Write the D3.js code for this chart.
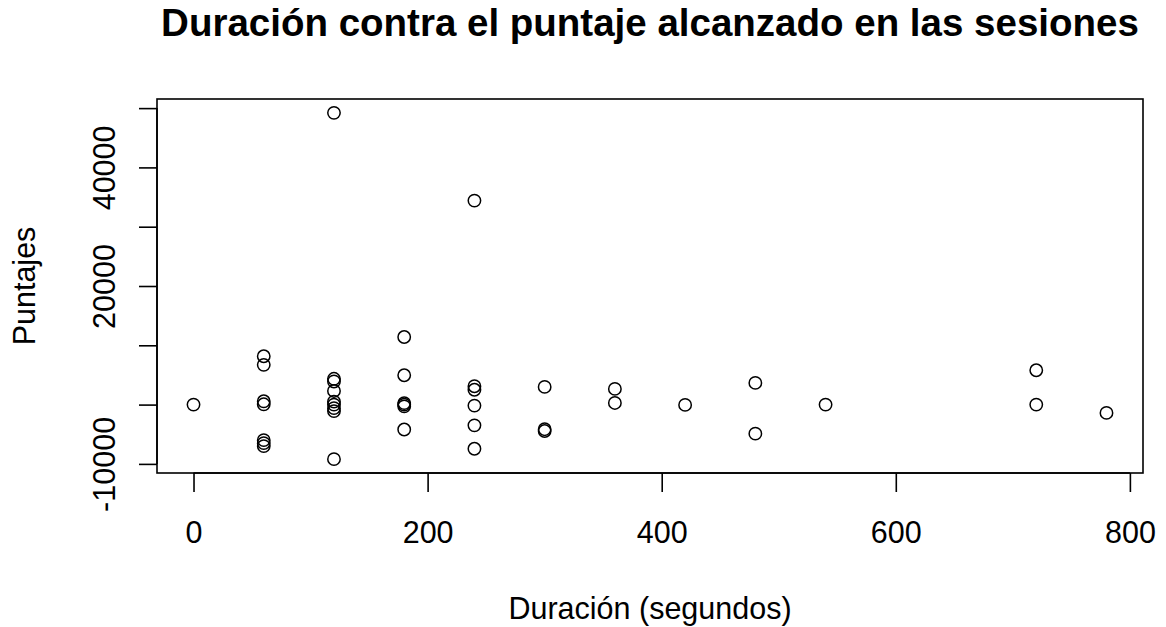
<!DOCTYPE html>
<html>
<head>
<meta charset="utf-8">
<script src="https://cdn.jsdelivr.net/npm/d3@7"></script>
<style>
  html, body { margin: 0; padding: 0; background: #fff; }
  svg { display: block; }
  text { font-family: "Liberation Sans", Arial, sans-serif; fill: #000; }
</style>
</head>
<body>
<div id="chart"></div>
<script>
// Data
const groupDurations = [0, 60, 120, 180, 240, 300, 360, 420, 480, 540, 720, 780];
const groupCounts    = [1, 7, 9, 6, 6, 3, 2, 1, 2, 1, 2, 1];
const puntajes = [
  0,
  8150, 6700, 560, 50, -6000, -6500, -7000,
  49200, 4350, 3900, 2300, 500, 0, -600, -1100, -9200,
  11400, 4950, 250, 0, -300, -4200,
  34400, 3100, 2500, -170, -3500, -7450,
  2980, -4150, -4450,
  2650, 280,
  -50,
  3660, -4900,
  0,
  5790, 0,
  -1400
];
const xTicks = [0, 200, 400, 600, 800];
const yTicks = [-10000, 0, 10000, 20000, 30000, 40000, 50000];
const yLabeled = [-10000, 20000, 40000];
const title = "Duración contra el puntaje alcanzado en las sesiones";
const xLabel = "Duración (segundos)";
const yLabel = "Puntajes";

const W = 1166, H = 627;
const box = { left: 157, right: 1143, top: 99, bottom: 473 };

const duracion = [];
groupDurations.forEach((v, g) => { for (let i = 0; i < groupCounts[g]; i++) duracion.push(v); });
const points = puntajes.map((p, i) => ({ x: duracion[i], y: p }));

function padded(ext) {
  const r = ext[1] - ext[0];
  return [ext[0] - 0.04 * r, ext[1] + 0.04 * r];
}
const x = d3.scaleLinear().domain(padded(d3.extent(duracion))).range([box.left, box.right]);
const y = d3.scaleLinear().domain(padded(d3.extent(puntajes))).range([box.bottom, box.top]);

const svg = d3.select("#chart").append("svg").attr("width", W).attr("height", H);

// Title
svg.append("text")
  .attr("x", (box.left + box.right) / 2)
  .attr("y", 36)
  .attr("text-anchor", "middle")
  .style("font-size", "38.5px")
  .style("font-weight", "bold")
  .text(title);

// Box
svg.append("rect")
  .attr("x", box.left).attr("y", box.top)
  .attr("width", box.right - box.left).attr("height", box.bottom - box.top)
  .attr("fill", "none").attr("stroke", "#000").attr("stroke-width", 1.6);

// X axis
const xAxis = d3.axisBottom(x).tickValues(xTicks).tickSize(19).tickFormat(d3.format("d"));
const gx = svg.append("g").attr("transform", `translate(0,${box.bottom})`).call(xAxis);
gx.select(".domain").attr("d", `M${x(xTicks[0])},0H${x(xTicks[xTicks.length-1])}`).attr("stroke-width", 1.6);
gx.selectAll(".tick line").attr("stroke-width", 1.6);
gx.selectAll(".tick text")
  .style("font-size", "30.5px").style("font-family", "Liberation Sans, Arial, sans-serif")
  .attr("dy", null).attr("y", 70);

// Y axis
const yAxis = d3.axisLeft(y).tickValues(yTicks).tickSize(18)
  .tickFormat(d => yLabeled.includes(d) ? String(d) : "");
const gy = svg.append("g").attr("transform", `translate(${box.left},0)`).call(yAxis);
gy.select(".domain").attr("d", `M0,${y(yTicks[0])}V${y(yTicks[yTicks.length-1])}`).attr("stroke-width", 1.6);
gy.selectAll(".tick line").attr("stroke-width", 1.6);
gy.selectAll(".tick text")
  .style("font-size", "30.5px").style("font-family", "Liberation Sans, Arial, sans-serif")
  .attr("x", null).attr("dy", null)
  .attr("text-anchor", "middle")
  .attr("transform", "translate(-42,0) rotate(-90)");

// Axis labels
svg.append("text")
  .attr("x", (box.left + box.right) / 2)
  .attr("y", 619)
  .attr("text-anchor", "middle")
  .style("font-size", "30.5px")
  .text(xLabel);
svg.append("text")
  .attr("transform", `translate(35,${(box.top + box.bottom) / 2}) rotate(-90)`)
  .attr("text-anchor", "middle")
  .style("font-size", "30.5px")
  .text(yLabel);

// Points
svg.append("g").selectAll("circle").data(points).enter().append("circle")
  .attr("cx", d => x(d.x))
  .attr("cy", d => y(d.y))
  .attr("r", 6.2)
  .attr("fill", "none")
  .attr("stroke", "#000")
  .attr("stroke-width", 1.5);
</script>
</body>
</html>
